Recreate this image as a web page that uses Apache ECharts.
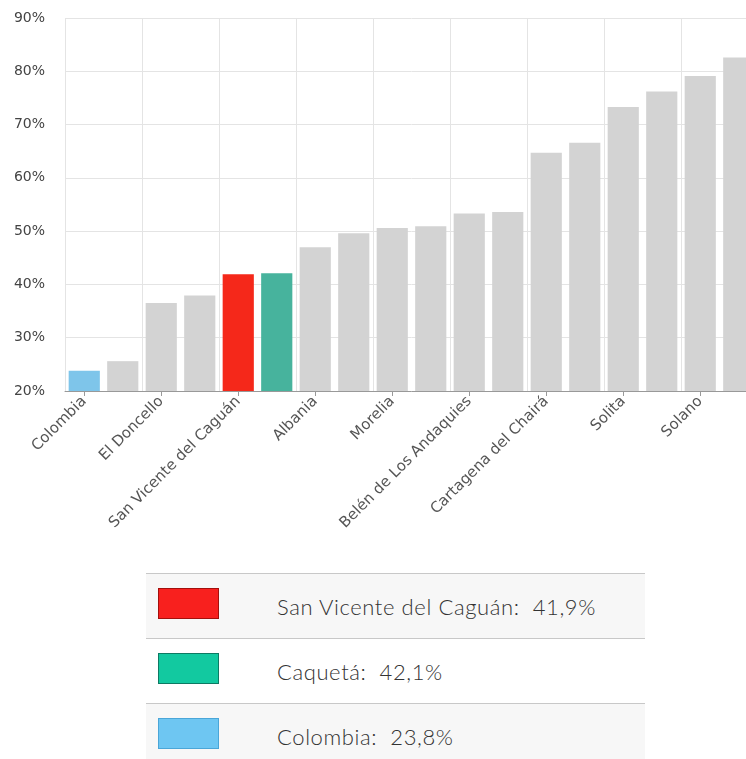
<!DOCTYPE html>
<html>
<head>
<meta charset="utf-8">
<script src="https://cdn.jsdelivr.net/npm/echarts@6/dist/echarts.min.js"></script>
<style>
  html, body { margin: 0; padding: 0; background: #fff; overflow: hidden; width: 746px; height: 759px; }
  #chart { position: absolute; left: 0; top: 0; width: 780px; height: 560px; }
  #legend { position: absolute; left: 146px; top: 573px; width: 499px; border-collapse: collapse;
    font-family: Lato, "Open Sans", sans-serif; font-weight: 300; font-size: 22px; letter-spacing: 0.6px; color: #333; }
  #legend td { border-top: 1.5px solid #c8c8c8; height: 64px; padding: 0; }
  #legend tr.g td { background: #f7f7f7; }
  #legend .sw { width: 131px; }
  #legend .sw div { width: 61px; height: 31px; margin-left: 12px; margin-top: -6px; box-sizing: border-box; }
</style>
</head>
<body>
<div id="chart"></div>
<table id="legend"></table>
<script>
  var categories = ['Colombia', 'Florencia', 'El Doncello', 'Puerto Rico', 'San Vicente del Caguán', 'Caquetá',
    'Albania', 'El Paujil', 'Morelia', 'La Montañita', 'Belén de Los Andaquies', 'Curillo',
    'Cartagena del Chairá', 'Valparaíso', 'Solita', 'Milán', 'Solano', 'San José del Fragua'];
  var values = [23.8, 25.6, 36.5, 37.9, 41.9, 42.1, 47.0, 49.6, 50.6, 50.9, 53.3, 53.6, 64.7, 66.6, 73.3, 76.2, 79.1, 82.6];
  var yTicks = ['20%', '30%', '40%', '50%', '60%', '70%', '80%', '90%'];

  var highlight = {
    'Colombia': '#7ec5ea',
    'San Vicente del Caguán': '#f5281a',
    'Caquetá': '#47b39d'
  };
  var legendRows = [
    { name: 'San Vicente del Caguán', label: '41,9%', color: '#f8201e', border: '#a3100c' },
    { name: 'Caquetá', label: '42,1%', color: '#12c9a0', border: '#0d7a63' },
    { name: 'Colombia', label: '23,8%', color: '#6ec6f2', border: '#4aa6d8' }
  ];

  var chart = echarts.init(document.getElementById('chart'));
  var option = {
    animation: false,
    grid: { left: 65, top: 18, width: 693, height: 373, containLabel: false },
    xAxis: {
      type: 'category',
      data: categories,
      axisLine: { lineStyle: { color: '#999', width: 1 } },
      axisTick: { show: true, interval: 1, alignWithLabel: true, length: 5, lineStyle: { color: '#999' } },
      axisLabel: { interval: 1, rotate: 45, color: '#555', fontSize: 15, fontFamily: 'DejaVu Sans', margin: 8 },
      splitLine: { show: true, interval: 1, lineStyle: { color: '#e4e4e4' } }
    },
    yAxis: {
      type: 'value',
      min: 20,
      max: 90,
      interval: 10,
      axisLine: { show: false },
      axisTick: { show: false },
      axisLabel: {
        color: '#444', fontSize: 14, fontFamily: 'DejaVu Sans', margin: 20,
        formatter: function (v) { return yTicks[(v - 20) / 10]; }
      },
      splitLine: { lineStyle: { color: '#e4e4e4' } }
    },
    series: [{
      type: 'bar',
      barCategoryGap: '19%',
      data: values.map(function (v, i) {
        return { value: v, itemStyle: { color: highlight[categories[i]] || '#d3d3d3' } };
      })
    }]
  };
  chart.setOption(option);

  var table = document.getElementById('legend');
  legendRows.forEach(function (r, i) {
    var tr = document.createElement('tr');
    if (i !== 1) tr.className = 'g';
    var td1 = document.createElement('td');
    td1.className = 'sw';
    var sw = document.createElement('div');
    sw.style.background = r.color;
    sw.style.border = '1px solid ' + r.border;
    td1.appendChild(sw);
    var td2 = document.createElement('td');
    td2.textContent = r.name + ':\u00a0 ' + r.label;
    tr.appendChild(td1);
    tr.appendChild(td2);
    table.appendChild(tr);
  });
</script>
</body>
</html>
